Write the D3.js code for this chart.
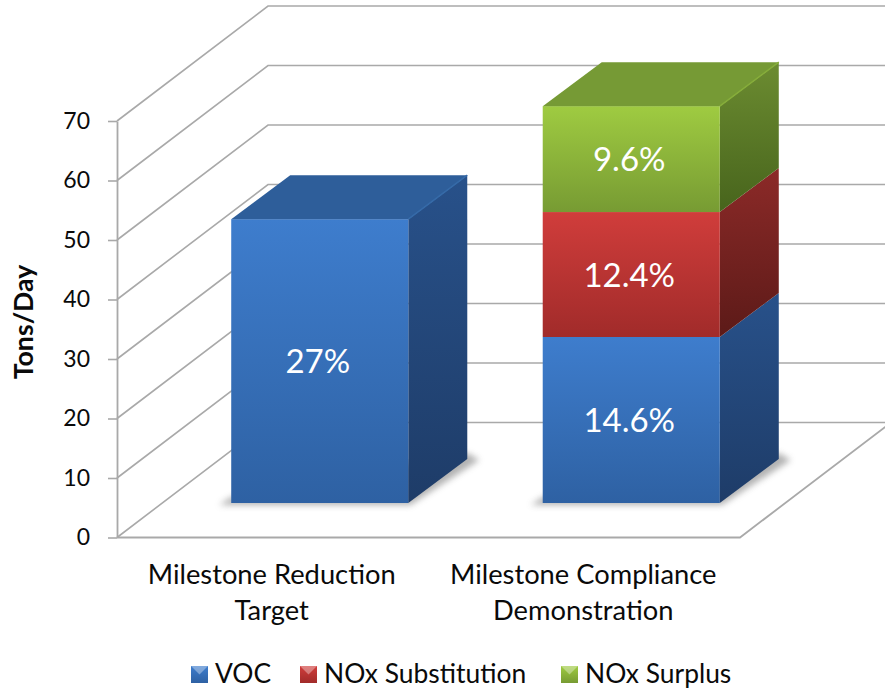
<!DOCTYPE html>
<html>
<head>
<meta charset="utf-8">
<script src="https://cdn.jsdelivr.net/npm/d3@7/dist/d3.min.js"></script>
<style>
  html, body { margin: 0; padding: 0; background: #fff; }
  svg { display: block; }
  text { font-family: Lato, "Open Sans", sans-serif; fill: #0a0a0a; }
</style>
</head>
<body>
<svg id="chart" width="885" height="692"></svg>
<script>
// Chart values
const categories = [["Milestone Reduction", "Target"], ["Milestone Compliance", "Demonstration"]];
const seriesNames = ["VOC", "NOx Substitution", "NOx Surplus"];
const vocValues = [47.7, 27.9];
const substitutionValues = [0, 21];
const surplusValues = [0, 17.8];
const shareLabels = [["27%", null, null], ["14.6%", "12.4%", "9.6%"]];
const yTicks = [0, 10, 20, 30, 40, 50, 60, 70];

// Per-series face colours: front top/bottom, side top/bottom, roof
const palette = [
  { front: ["#3e7dcd", "#2e61a3"], side: ["#28518a", "#1e3c68"], top: "#2e5e9a", edge: "#356aa8" },
  { front: ["#d03d3b", "#a12b2a"], side: ["#8c2a28", "#5c1a18"], top: "#8c2a28", edge: "#b03a38" },
  { front: ["#9fcb41", "#779b33"], side: ["#6c8c31", "#47641c"], top: "#769a35", edge: "#86ad3a" }
];

const svg = d3.select("#chart");
const defs = svg.append("defs");

// Oblique projection of the chart box
const depth = { x: 151, y: -115 };        // floor front edge to back wall
const barOffset = { x: 47, y: -34.5 };    // floor front edge to bar front
const barDepth = { x: 59, y: -44 };       // bar front to bar back
const floorLeft = 117, floorRight = 740;

const y = d3.scaleLinear().domain([0, 70]).range([537.5, 121]);
const x = d3.scaleBand()
  .domain(d3.range(categories.length))
  .range([floorLeft, floorRight])
  .paddingInner(0.4316)
  .paddingOuter(0.2158);

const rows = categories.map((c, i) => ({
  index: i,
  voc: vocValues[i],
  sub: substitutionValues[i],
  sur: surplusValues[i]
}));
const stacked = d3.stack().keys(["voc", "sub", "sur"])(rows);

// Gradients
palette.forEach((p, i) => {
  [["front", p.front], ["side", p.side]].forEach(([name, stops]) => {
    const g = defs.append("linearGradient")
      .attr("id", `${name}-${i}`)
      .attr("x1", 0).attr("y1", 0).attr("x2", 0).attr("y2", 1);
    g.append("stop").attr("offset", 0).attr("stop-color", stops[0]);
    g.append("stop").attr("offset", 1).attr("stop-color", stops[1]);
  });
});
defs.append("filter").attr("id", "soft")
  .attr("x", "-20%").attr("y", "-20%").attr("width", "140%").attr("height", "140%")
  .append("feGaussianBlur").attr("stdDeviation", 3);

// Walls and floor: each gridline runs up the side wall, then along the back wall
const wallColor = "#a9a9a9";
const walls = svg.append("g").attr("fill", "none").attr("stroke", wallColor);
yTicks.forEach(t => {
  const py = y(t);
  walls.append("path")
    .attr("stroke-width", 1.6)
    .attr("d", d3.line()([
      [floorLeft, py],
      [floorLeft + depth.x, py + depth.y],
      [floorRight + depth.x, py + depth.y]
    ]));
});
walls.append("path")
  .attr("stroke-width", 1.8)
  .attr("d", d3.line()([
    [floorLeft, y(0)],
    [floorRight, y(0)],
    [floorRight + depth.x, y(0) + depth.y]
  ]));

// Value axis
const axis = d3.axisLeft(y).tickValues(yTicks).tickSize(9).tickPadding(18).tickSizeOuter(0);
const axisG = svg.append("g").attr("transform", `translate(${floorLeft},0)`).call(axis);
axisG.select(".domain").attr("stroke", wallColor).attr("stroke-width", 1.8);
axisG.selectAll(".tick line").attr("stroke", wallColor).attr("stroke-width", 1.6);
axisG.selectAll(".tick text")
  .attr("font-size", 23)
  .style("font-family", "Lato, 'Open Sans', sans-serif")
  .attr("fill", "#0a0a0a");

svg.append("text")
  .attr("transform", `translate(33,322) rotate(-90)`)
  .attr("text-anchor", "middle")
  .attr("font-size", 26.7)
  .attr("font-weight", 700)
  .text("Tons/Day");

// Bars
const barsG = svg.append("g");
rows.forEach((row, i) => {
  const left = x(i) + barOffset.x;
  const right = left + x.bandwidth();
  const base = y(0) + barOffset.y;
  const unit = v => y(v) - y(0);
  const total = row.voc + row.sub + row.sur;

  // Contact shadow on the floor
  barsG.append("path")
    .attr("d", d3.line()([
      [left - 12, base + 2],
      [right + 2, base + 2],
      [right + barDepth.x + 12, base + barDepth.y + 1],
      [right + barDepth.x, base + barDepth.y - 6],
      [left, base - 6]
    ]) + "Z")
    .attr("fill", "#666")
    .attr("opacity", 0.5)
    .attr("filter", "url(#soft)");

  stacked.forEach((layer, s) => {
    const [v0, v1] = layer[i];
    if (v1 === v0) return;
    const yLow = base + unit(v0);
    const yHigh = base + unit(v1);

    barsG.append("path")
      .attr("fill", `url(#side-${s})`)
      .attr("d", d3.line()([
        [right, yHigh],
        [right + barDepth.x, yHigh + barDepth.y],
        [right + barDepth.x, yLow + barDepth.y],
        [right, yLow]
      ]) + "Z");

    barsG.append("rect")
      .attr("x", left)
      .attr("y", yHigh)
      .attr("width", right - left)
      .attr("height", yLow - yHigh)
      .attr("fill", `url(#front-${s})`);

    if (v1 === total) {
      barsG.append("path")
        .attr("fill", palette[s].top)
        .attr("d", d3.line()([
          [left, yHigh],
          [left + barDepth.x, yHigh + barDepth.y],
          [right + barDepth.x, yHigh + barDepth.y],
          [right, yHigh]
        ]) + "Z");
      barsG.append("path")
        .attr("fill", "none")
        .attr("stroke", palette[s].edge)
        .attr("stroke-width", 1.5)
        .attr("d", d3.line()([[right, yHigh], [right + barDepth.x, yHigh + barDepth.y]]));
    }

    const label = shareLabels[i][s];
    if (label) {
      barsG.append("text")
        .attr("x", (left + right) / 2 - 2)
        .attr("y", (yLow + yHigh) / 2 + 12)
        .attr("text-anchor", "middle")
        .attr("font-size", 33)
        .style("fill", "#fff")
        .text(label);
    }
  });
});

// Category labels on two lines
categories.forEach((lines, i) => {
  const t = svg.append("text")
    .attr("text-anchor", "middle")
    .attr("font-size", 27.3);
  lines.forEach((line, k) => {
    t.append("tspan")
      .attr("x", x(i) + x.bandwidth() / 2 - 1)
      .attr("y", 584 + k * 36)
      .text(line);
  });
});

// Legend
const legendX = [191, 300, 561];
const legendG = svg.append("g");
seriesNames.forEach((name, s) => {
  const mx = legendX[s], my = 666, size = 17;
  const g = legendG.append("g").attr("transform", `translate(${mx},${my})`);
  g.append("rect").attr("width", size).attr("height", size).attr("fill", `url(#front-${s})`);
  g.append("path")
    .attr("d", d3.line()([[0, 0], [size, 0], [size / 2, size * 0.5]]) + "Z")
    .attr("fill", "#fff")
    .attr("opacity", 0.35);
  legendG.append("text")
    .attr("x", mx + size + 7)
    .attr("y", my + 17)
    .attr("font-size", 26.4)
    .text(name);
});
</script>
</body>
</html>
